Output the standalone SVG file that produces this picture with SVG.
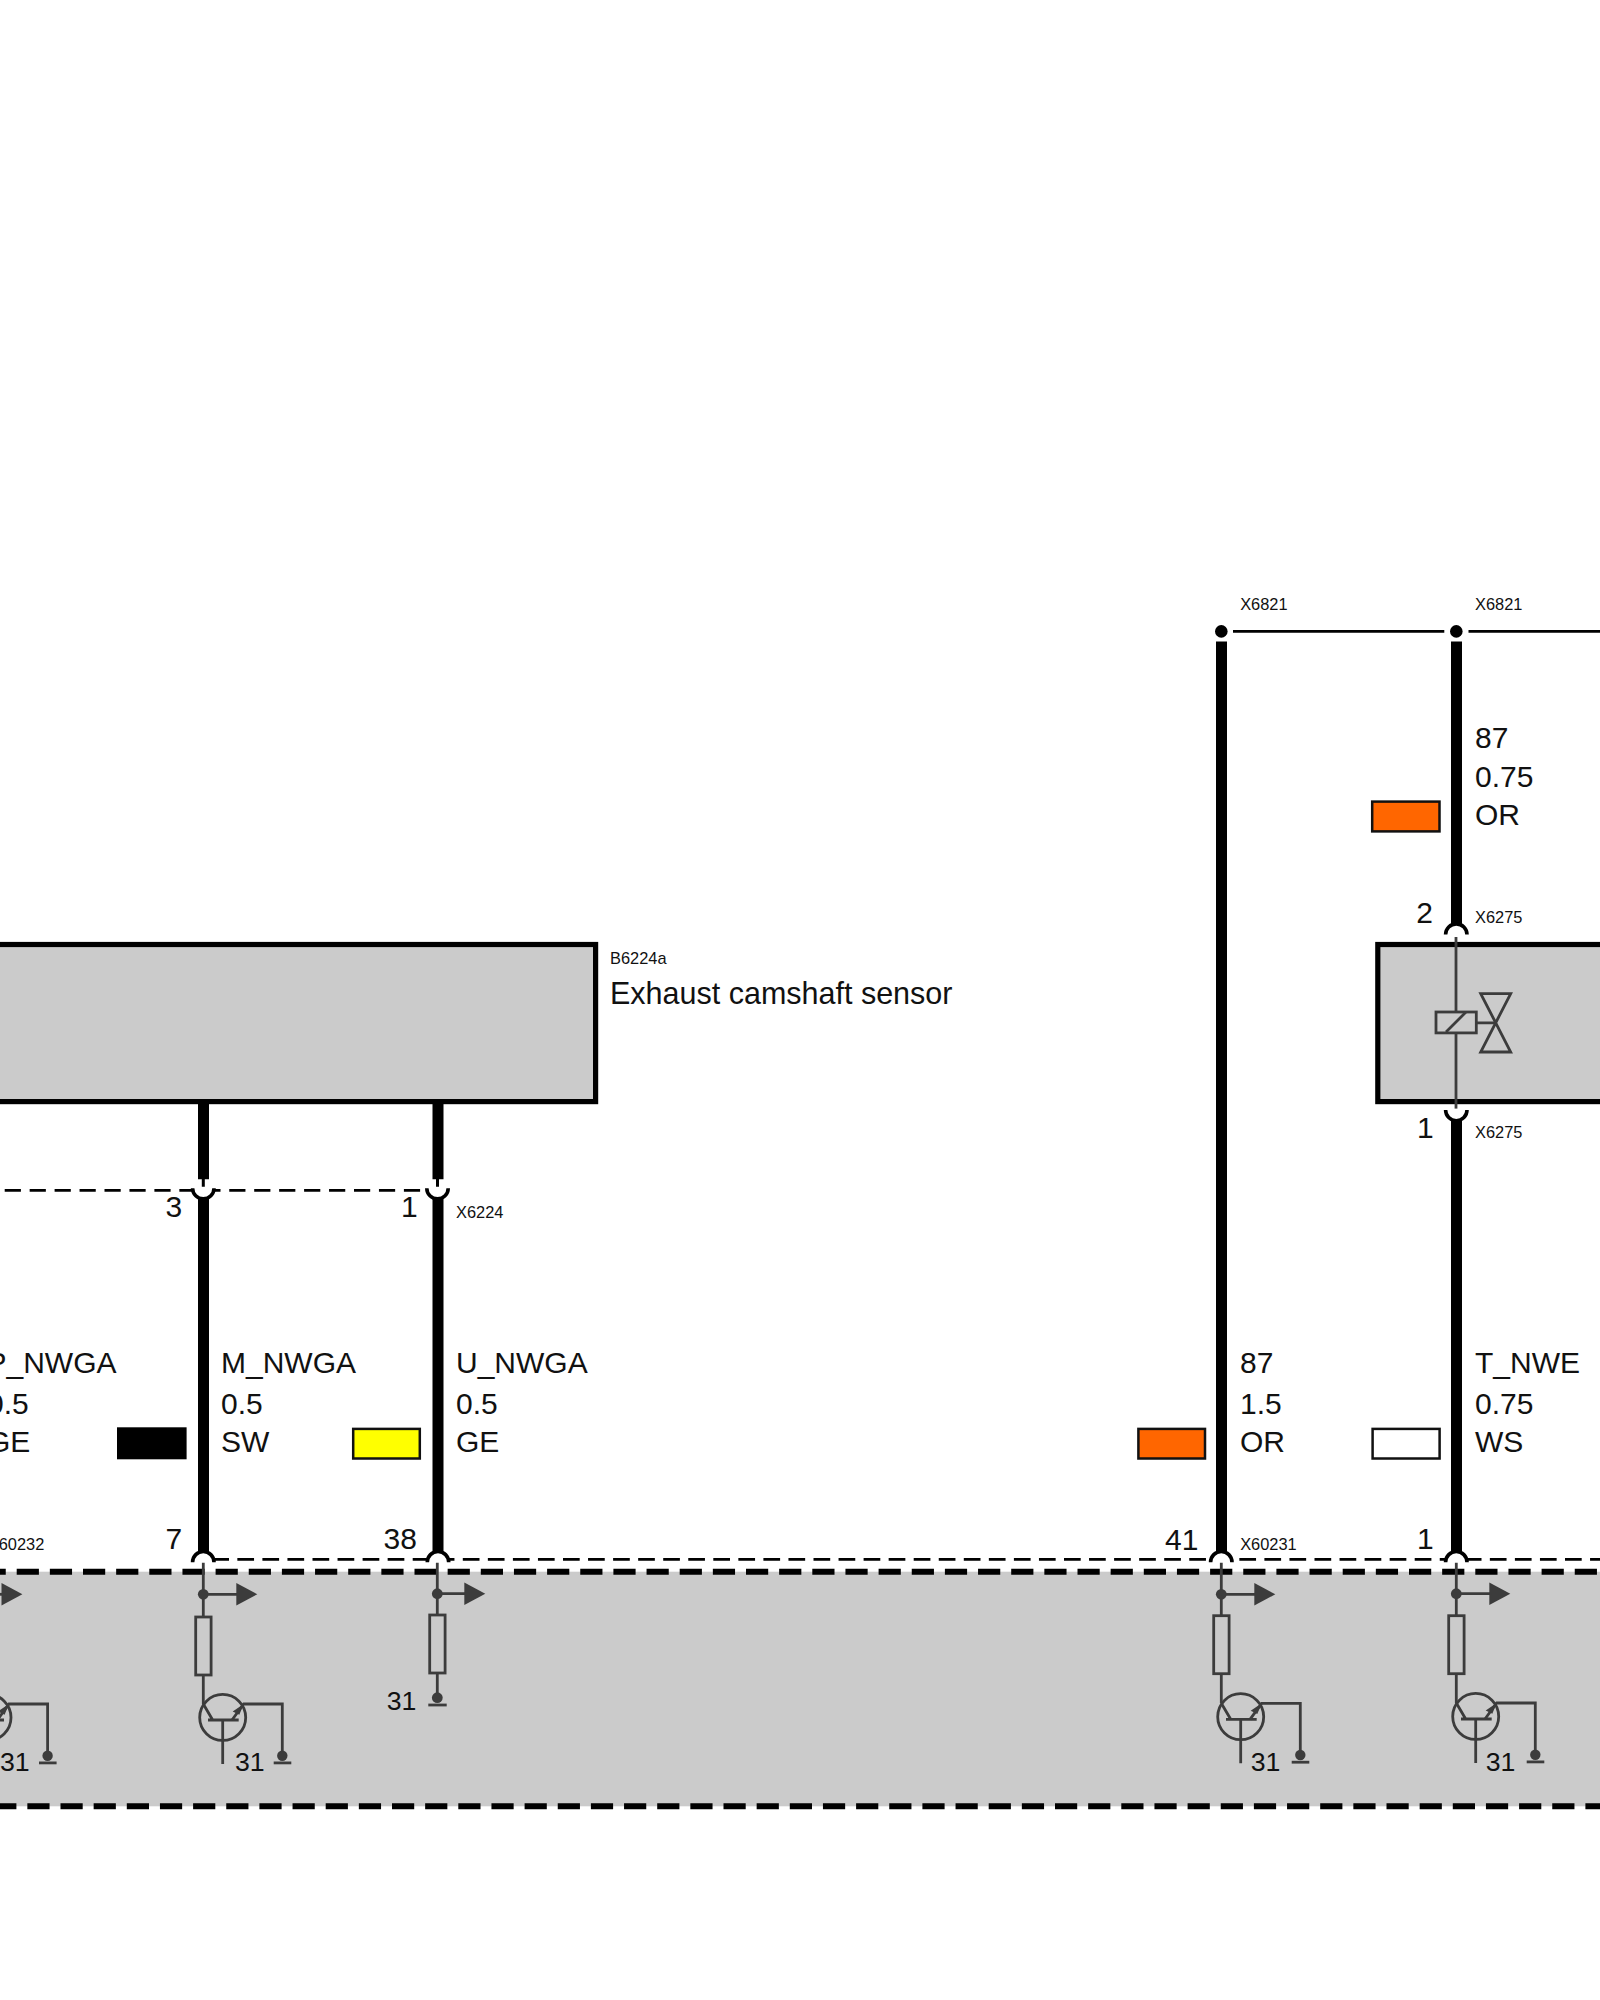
<svg xmlns="http://www.w3.org/2000/svg" xmlns:xlink="http://www.w3.org/1999/xlink" width="1600" height="2000" viewBox="0 0 1600 2000">
<style>
text{font-family:"Liberation Sans",Arial,sans-serif;fill:#111}
.l{font-size:30px}
.g{font-size:26.7px}
.s{font-size:16.4px}
.wire{stroke:#000;stroke-width:11;fill:none}
.hair{stroke:#000;stroke-width:3;fill:none}
.arc{stroke:#000;stroke-width:3.6;fill:#fff}
.int{stroke:#3c3c3c;stroke-width:2.8;fill:none}
.dot{fill:#3c3c3c}
.box{fill:#cbcbcb;stroke:#000;stroke-width:5.2}
.sw{stroke:#111;stroke-width:2.5}
</style>
<defs>
<g id="capDown"><path class="arc" d="M-10.7 10A10.7 10.7 0 0 1 10.7 10"/></g>
<g id="cupUp"><path class="arc" d="M-10.7 0A10.7 10.7 0 0 0 10.7 0"/></g>
<g id="tapArrow">
<circle class="dot" cx="0" cy="0" r="5.4"/>
<path class="int" d="M0 0H34"/>
<path class="dot" d="M33 -11.2V11.2L54 0Z"/>
</g>
<rect id="res" class="int" x="-7.6" y="0" width="15.4" height="58"/>
<g id="tr">
<circle class="int" cx="19.4" cy="0.4" r="23"/>
<path class="int" d="M0 -13L9.4 3M4.7 3H35.4M19.4 3V47"/>
<path class="int" d="M28.7 3L40.4 -13H79V37"/>
<path class="dot" d="M40.4 -13L29.4 -5.6L36 -2.3Z"/>
<circle class="dot" cx="79" cy="38.7" r="5.2"/>
<path class="int" d="M70.4 45.9H88"/>
</g>
</defs>

<g id="ecu-area">
<rect x="-5" y="1571.7" width="1610" height="234.6" fill="#cbcbcb"/>
<path d="M-16.45 1571.7H1610" stroke="#000" stroke-width="6" stroke-dasharray="22.2 10.95" fill="none"/>
<path d="M-5.8 1806.3H1610" stroke="#000" stroke-width="6" stroke-dasharray="22.2 10.95" fill="none"/>
</g>

<g id="connectors">
<path d="M1233 631.4H1444.3M1468.5 631.4H1600" stroke="#000" stroke-width="2.8" fill="none"/>
<path class="wire" d="M1221.5 641.4V1553"/>
<path class="wire" d="M1456.5 641.4V925"/>
<path class="wire" d="M1456.5 1118V1553"/>
<path class="wire" d="M203.5 1100V1179.3M203.5 1197V1553"/>
<path class="wire" d="M438 1100V1179.3M438 1197V1553"/>
<path d="M4.7 1190.3H428" stroke="#000" stroke-width="2.8" stroke-dasharray="16.2 8.75" fill="none"/>
<path d="M212.3 1559.3H1600" stroke="#000" stroke-width="2.8" stroke-dasharray="16.7 8.35" fill="none"/>
<path class="hair" d="M203.3 1179V1186.7M437.5 1179V1186.7"/>
<use xlink:href="#cupUp" href="#cupUp" x="203.3" y="1188.2"/>
<use xlink:href="#cupUp" href="#cupUp" x="437.5" y="1188.2"/>
<use xlink:href="#capDown" href="#capDown" x="203.3" y="1552.2"/>
<use xlink:href="#capDown" href="#capDown" x="438" y="1552.2"/>
<use xlink:href="#capDown" href="#capDown" x="1221.3" y="1552.2"/>
<use xlink:href="#capDown" href="#capDown" x="1456.3" y="1552.2"/>
<use xlink:href="#capDown" href="#capDown" x="1456.3" y="924.6"/>
<use xlink:href="#cupUp" href="#cupUp" x="1456.3" y="1110"/>
</g>

<g id="junction-1"><circle cx="1221.3" cy="631.4" r="6.3" fill="#000"/><text class="s" x="1240.2" y="610.4">X6821</text></g>
<g id="junction-2"><circle cx="1456.3" cy="631.4" r="6.3" fill="#000"/><text class="s" x="1475" y="610.4">X6821</text></g>

<g id="wire-label-87-075">
<text class="l" x="1475" y="748.2">87</text>
<text class="l" x="1475" y="787">0.75</text>
<text class="l" x="1475" y="825">OR</text>
<rect class="sw" x="1372.2" y="801.6" width="67.3" height="29.8" fill="#ff6600"/>
</g>

<g id="B6224a">
<rect class="box" x="-10" y="944.5" width="605.6" height="157.1"/>
<text class="s" x="610" y="963.5">B6224a</text>
<text class="l" x="610" y="1004" style="font-size:30.5px">Exhaust camshaft sensor</text>
</g>

<g id="X6224">
<text class="l" x="165.5" y="1217.3">3</text>
<text class="l" x="401" y="1217.3">1</text>
<text class="s" x="456" y="1218">X6224</text>
</g>

<g id="valve">
<rect class="box" x="1377.8" y="944.5" width="240" height="157.1"/>
<path class="int" d="M1456 937V1108.6"/>
<rect x="1436" y="1012" width="40.3" height="20.9" fill="#cbcbcb" stroke="#3c3c3c" stroke-width="2.8"/>
<path class="int" d="M1446 1032L1466 1012M1476.3 1022.9H1495.7"/>
<path class="int" d="M1480.7 993.6H1510.7L1480.7 1052H1510.7Z"/>
<text class="l" x="1416.2" y="922.9">2</text>
<text class="s" x="1475" y="922.9">X6275</text>
<text class="l" x="1417" y="1138">1</text>
<text class="s" x="1475" y="1138">X6275</text>
</g>

<g id="wire-label-P">
<text class="l" x="-13.5" y="1372.7">P_NWGA</text>
<text class="l" x="-13" y="1414.3">0.5</text>
<text class="l" x="-13" y="1452">GE</text>
<rect x="117" y="1427.3" width="69.6" height="32" fill="#000"/>
</g>
<g id="wire-label-M">
<text class="l" x="221" y="1372.7">M_NWGA</text>
<text class="l" x="221" y="1414.3">0.5</text>
<text class="l" x="221" y="1452">SW</text>
<rect class="sw" x="353.2" y="1428.9" width="66.6" height="29.6" fill="#ffff00"/>
</g>
<g id="wire-label-U">
<text class="l" x="456" y="1372.7">U_NWGA</text>
<text class="l" x="456" y="1414.3">0.5</text>
<text class="l" x="456" y="1452">GE</text>
</g>
<g id="wire-label-87-15">
<text class="l" x="1240" y="1372.7">87</text>
<text class="l" x="1240" y="1414.3">1.5</text>
<text class="l" x="1240" y="1452">OR</text>
<rect class="sw" x="1138.4" y="1428.9" width="66.6" height="29.6" fill="#ff6600"/>
</g>
<g id="wire-label-T">
<text class="l" x="1475" y="1372.7">T_NWE</text>
<text class="l" x="1475" y="1414.3">0.75</text>
<text class="l" x="1475" y="1452">WS</text>
<rect class="sw" x="1372.6" y="1428.9" width="67" height="29.6" fill="#fff"/>
</g>

<g id="pin-0">
<use xlink:href="#tr" href="#tr" x="-31.4" y="1717"/>
<path class="dot" d="M1.5 1583V1605.6L22.4 1594.3Z"/>
<path class="int" d="M-5 1594.3H3"/>
<text class="g" x="0" y="1770.7">31</text>
<text class="s" x="-12.2" y="1550">X60232</text>
</g>
<g id="pin-7">
<path class="int" d="M203.3 1562.7V1617M203.3 1675V1704"/>
<use xlink:href="#tapArrow" href="#tapArrow" x="203.3" y="1594.3"/>
<use xlink:href="#res" href="#res" x="203.3" y="1617"/>
<use xlink:href="#tr" href="#tr" x="203.3" y="1717"/>
<text class="g" x="235" y="1770.7">31</text>
<text class="l" x="165.5" y="1549">7</text>
</g>
<g id="pin-38">
<path class="int" d="M437.3 1562.7V1615M437.3 1672.3V1697M437.3 1593.7H465"/>
<circle class="dot" cx="437.3" cy="1593.7" r="5.4"/>
<path class="dot" d="M464.3 1582.5V1604.9L485.3 1593.7Z"/>
<use xlink:href="#res" href="#res" x="437.3" y="1615"/>
<circle class="dot" cx="437.3" cy="1697.7" r="5.4"/>
<path class="int" d="M428.3 1705H446.7"/>
<text class="g" x="386.7" y="1710">31</text>
<text class="l" x="383.5" y="1549">38</text>
</g>
<g id="pin-41">
<path class="int" d="M1221.3 1562.7V1615.7M1221.3 1674V1703"/>
<use xlink:href="#tapArrow" href="#tapArrow" x="1221.3" y="1594.3"/>
<use xlink:href="#res" href="#res" x="1221.3" y="1615.7"/>
<use xlink:href="#tr" href="#tr" x="1221.3" y="1716.3"/>
<text class="g" x="1250.7" y="1770.7">31</text>
<text class="l" x="1165" y="1549.5">41</text>
<text class="s" x="1240.2" y="1550">X60231</text>
</g>
<g id="pin-1">
<path class="int" d="M1456.3 1562.7V1615.7M1456.3 1674V1703"/>
<use xlink:href="#tapArrow" href="#tapArrow" x="1456.3" y="1593.7"/>
<use xlink:href="#res" href="#res" x="1456.3" y="1615.7"/>
<use xlink:href="#tr" href="#tr" x="1456.3" y="1716"/>
<text class="g" x="1485.7" y="1770.7">31</text>
<text class="l" x="1417" y="1549">1</text>
</g>
</svg>
